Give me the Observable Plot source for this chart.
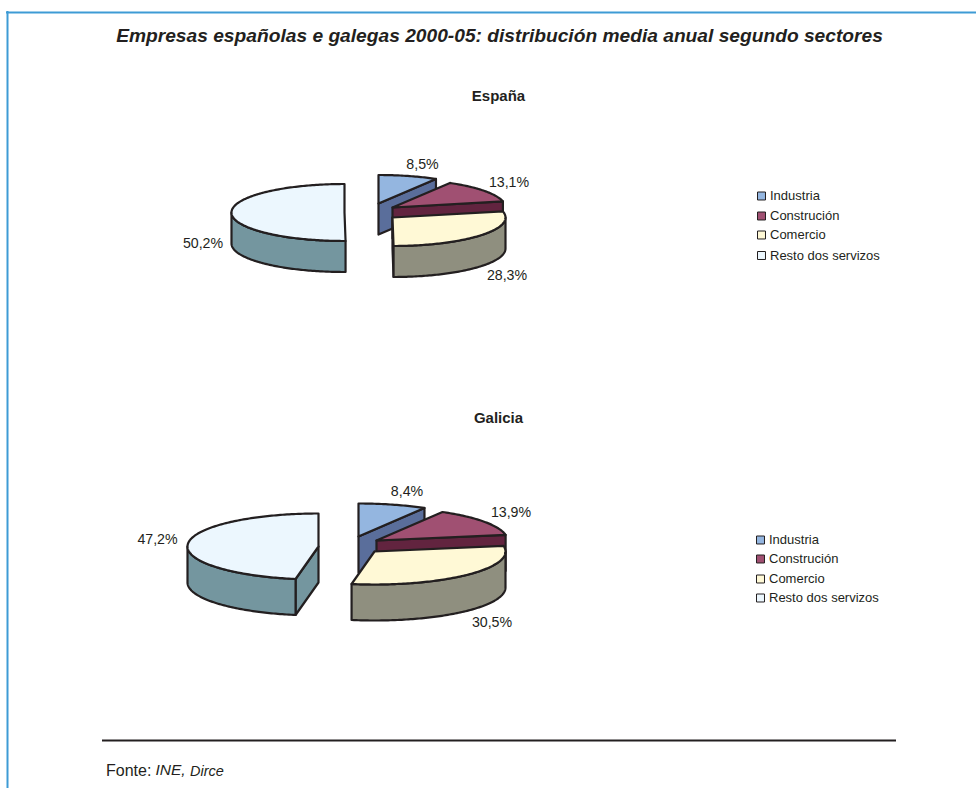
<!DOCTYPE html>
<html><head><meta charset="utf-8">
<script src="https://cdn.jsdelivr.net/npm/d3@7"></script>
<script src="https://cdn.jsdelivr.net/npm/@observablehq/plot@0.6"></script>
<style>html,body{margin:0;padding:0;background:#fff}svg{display:block}</style>
</head><body><div id="chart"></div>
<script>
const categories = ["Industria","Construción","Comercio","Resto dos servizos"];
const espana  = [8.5,13.1,28.3,50.2];
const galicia = [8.4,13.9,30.5,47.2];
const mainTitle = "Empresas españolas e galegas 2000-05: distribución media anual segundo sectores";

const topColors  = ["#94b6e0","#a05072","#fff9d6","#ecf7fe"];
const sideColors = ["#5a6e9b","#62243f","#8f8f7f","#74969f"];
const ink = "#231f20";

// layout of each exploded pie (page pixels)
const layouts = [
  {name:"España", values:espana, rx:113, ry:28.5, depth:31,
   centers:[[378,203],[392,207],[392,217],[344,212]],
   labels:[[422,163.5],[508.5,181.5],[506.5,274.5],[202.5,242.5]],
   titleY:96, legendX:761, legendY:[195.5,215.5,234.5,255]},
  {name:"Galicia", values:galicia, rx:131, ry:33, depth:36,
   centers:[[358,536],[376,540],[374,551],[318,546]],
   labels:[[406.5,491],[510.5,512],[491.5,622],[157,538.5]],
   titleY:418, legendX:760, legendY:[539.5,558.5,578.5,597.5]}
];

const faces = [];
function addFace(id, colorKey, pts){
  pts.forEach(p=>faces.push({id,colorKey,x:p[0],y:p[1]}));
  faces.push({id,colorKey,x:pts[0][0],y:pts[0][1]});
}
const rad = d=>d*Math.PI/180;
layouts.forEach(L=>{
  const total = d3.sum(L.values);
  let cum = 0;
  L.values.forEach((v,i)=>{
    const a0 = cum/total*360, a1 = (cum+v)/total*360; cum += v;
    const [cx,cy] = L.centers[i];
    const pt = (a,dz=0)=>[cx+L.rx*Math.sin(rad(a)), cy-L.ry*Math.cos(rad(a))+dz];
    const key = L.name+i;
    const top = "t"+i, side = "s"+i;
    const quad = (a,tag)=>addFace(key+tag,side,[[cx,cy],pt(a),pt(a,L.depth),[cx,cy+L.depth]]);
    // cut faces turned towards the viewer
    if (a0>=180) quad(a0,"start");
    if (a1<=180) quad(a1,"end");
    // outer wall: only the front half of the rim shows
    const s0 = Math.max(a0,90), s1 = Math.min(a1,270);
    if (s1>s0){
      const arc = d3.range(s0,s1,1).concat([s1]);
      addFace(key+"wall",side,[...arc.map(a=>pt(a)),...arc.slice().reverse().map(a=>pt(a,L.depth))]);
    }
    const arcTop = d3.range(a0,a1,1).concat([a1]);
    addFace(key+"top",top,[[cx,cy],...arcTop.map(a=>pt(a))]);
  });
});

const pct = d=>d.toFixed(1).replace(".",",")+"%";
const dataLabels = layouts.flatMap(L=>L.values.map((v,i)=>({t:pct(v),x:L.labels[i][0],y:L.labels[i][1]})));
const legendRows = layouts.flatMap(L=>categories.map((c,i)=>({c,i,x:L.legendX,y:L.legendY[i]})));
const colorDomain = [...topColors.map((_,i)=>"t"+i),...sideColors.map((_,i)=>"s"+i)];
const colorRange  = [...topColors,...sideColors];

const font = "'Liberation Sans', Arial, sans-serif";
const chart = Plot.plot({
  width:976, height:788, margin:0,
  x:{domain:[0,976],range:[0,976],axis:null},
  y:{domain:[0,788],range:[0,788],axis:null},
  color:{domain:colorDomain,range:colorRange},
  style:{background:"#fff",fontFamily:font},
  marks:[
    // page frame, open at the right and the bottom
    Plot.ruleY([12],{x1:6,x2:976,stroke:"#3e9bd5",strokeWidth:2}),
    Plot.ruleX([7],{y1:11,y2:788,stroke:"#3e9bd5",strokeWidth:2}),
    Plot.text([mainTitle],{x:499,y:35,text:d=>d,fontSize:19.2,fontWeight:"bold",fontStyle:"italic",fill:ink}),
    Plot.text(layouts,{x:498,y:"titleY",text:"name",fontSize:15,fontWeight:"bold",fill:ink}),
    Plot.line(faces,{x:"x",y:"y",z:"id",fill:"colorKey",stroke:ink,strokeWidth:2.2,curve:"linear"}),
    Plot.text(dataLabels,{x:"x",y:"y",text:"t",fontSize:14.2,fill:ink}),
    Plot.dot(legendRows,{x:"x",y:"y",symbol:"square",r:4.5,fill:d=>"t"+d.i,stroke:ink,strokeWidth:1,strokeLinejoin:"miter"}),
    Plot.text(legendRows,{x:d=>d.x+8.5,y:"y",text:"c",textAnchor:"start",fontSize:13,fill:ink}),
    Plot.ruleY([740],{x1:102,x2:896,stroke:ink,strokeWidth:2}),
    Plot.text(["Fonte:"],{x:105.5,y:770,text:d=>d,textAnchor:"start",fontSize:16,fill:ink}),
    Plot.text(["INE,"],{x:155,y:770,text:d=>d,textAnchor:"start",fontSize:15.5,fontStyle:"italic",fill:ink}),
    Plot.text(["Dirce"],{x:189.5,y:770.5,text:d=>d,textAnchor:"start",fontSize:14.5,fontStyle:"italic",fill:ink})
  ]
});
document.getElementById("chart").appendChild(chart);
</script></body></html>
